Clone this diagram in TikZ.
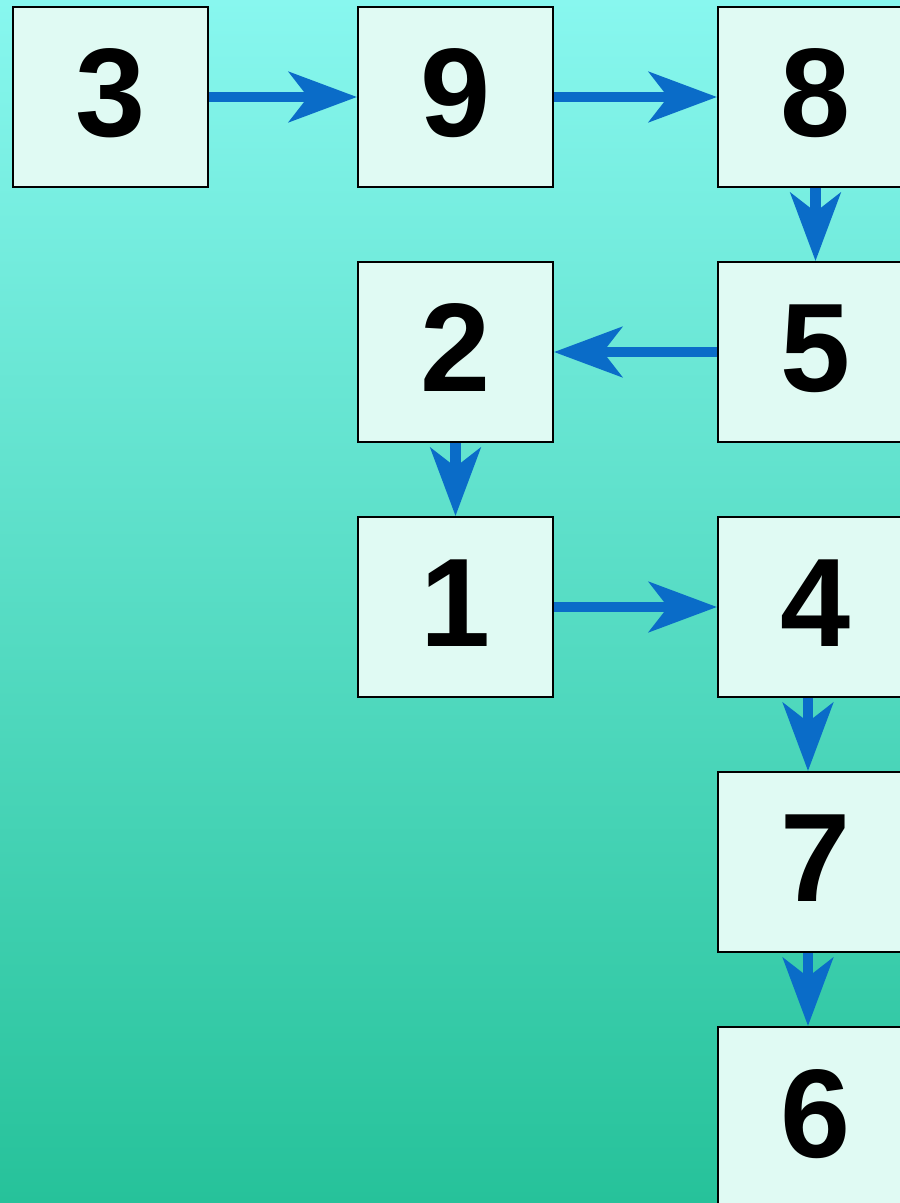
\documentclass[tikz,border=0pt]{standalone}
\usepackage{fontspec}
\setmainfont{Liberation Sans}
\usetikzlibrary{arrows.meta,positioning}
\definecolor{cTop}{HTML}{88F7EF}
\definecolor{cBot}{HTML}{26C29A}
\definecolor{cFill}{HTML}{E0FAF3}
\definecolor{cFlow}{HTML}{0A6CC8}
\tikzset{
  digitbox/.style = {draw=black, line width=2pt, fill=cFill,
                     minimum width=195pt, minimum height=180pt,
                     inner sep=0pt, text depth=8pt,
                     font=\fontsize{126}{126}\selectfont\bfseries},
  flow/.style     = {draw=cFlow, line width=10.5pt,
                     -{Stealth[length=68pt, width=50pt, inset=19pt, fill=cFlow]}},
}
\begin{document}
\begin{tikzpicture}[x=1pt, y=-1pt]
  % background
  \useasboundingbox (0,0) rectangle (900,1203);
  \shade[top color=cTop, bottom color=cBot] (0,0) rectangle (900,1203);
  % boxes
  \node[digitbox] (n3) at (110.5,97)  {3};
  \node[digitbox] (n9) at (455.5,97)  {9};
  \node[digitbox] (n8) at (815.5,97)  {8};
  \node[digitbox] (n2) at (455.5,352) {2};
  \node[digitbox] (n5) at (815.5,352) {5};
  \node[digitbox] (n1) at (455.5,607) {1};
  \node[digitbox] (n4) at (815.5,607) {4};
  \node[digitbox] (n7) at (815.5,862) {7};
  \node[digitbox] (n6) at (815.5,1117) {6};
  % arrows
  \draw[flow] (n3.east) -- (n9.west);
  \draw[flow] (n9.east) -- (n8.west);
  \draw[flow] (n8.south) -- (n5.north);
  \draw[flow] (n5.west) -- (n2.east);
  \draw[flow] (n2.south) -- (n1.north);
  \draw[flow] (n1.east) -- (n4.west);
  \draw[flow] ([xshift=-7.5pt]n4.south) -- ([xshift=-7.5pt]n7.north);
  \draw[flow] ([xshift=-7.5pt]n7.south) -- ([xshift=-7.5pt]n6.north);
\end{tikzpicture}
\end{document}
